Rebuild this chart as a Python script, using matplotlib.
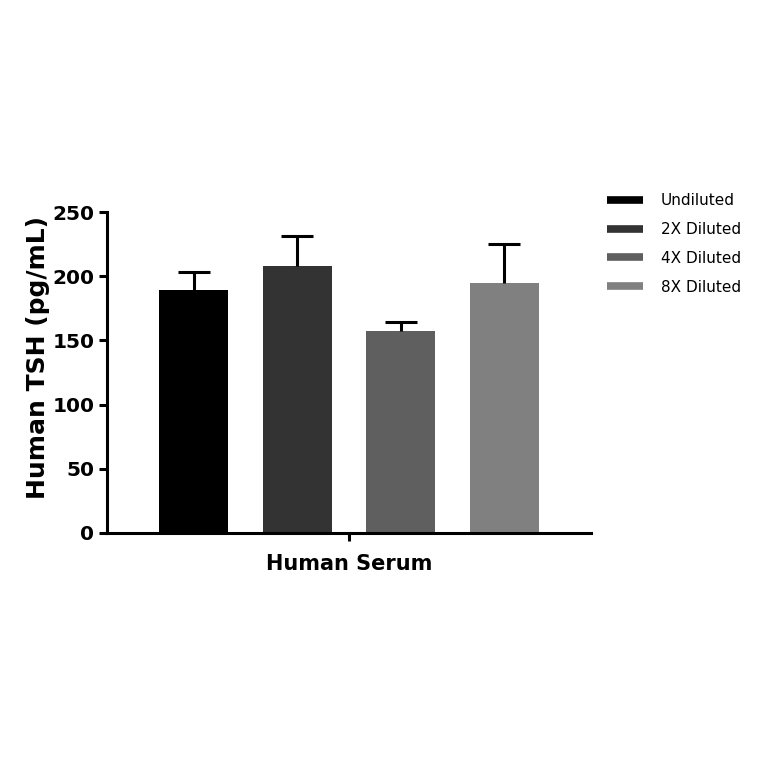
import matplotlib
matplotlib.use("Agg")
import matplotlib.pyplot as plt
import numpy as np
from matplotlib.lines import Line2D

categories = ["Undiluted", "2X Diluted", "4X Diluted", "8X Diluted"]
values = [189, 208, 157, 195]
errors = [14, 23, 7, 30]
colors = ["#000000", "#333333", "#5f5f5f", "#808080"]
group_label = "Human Serum"
yticks = [0, 50, 100, 150, 200, 250]

plt.rcParams['font.family'] = ['DejaVu Sans']
fig = plt.figure(figsize=(7.64, 7.64), dpi=100)
ax = fig.add_axes([0.140, 0.3024, 0.6336, 0.4201])

pos = np.array([-1.5, -0.5, 0.5, 1.5])
for p, v, e, c, lab in zip(pos, values, errors, colors, categories):
    ax.bar(p, v, width=0.667, color=c, label=lab, zorder=2)
    _, caps, _ = ax.errorbar(p, v, yerr=[[0], [e]], fmt='none', ecolor='black',
                             elinewidth=2.2, capsize=11.5, capthick=2.2, zorder=3)
    caps[0].set_visible(False)

ax.set_xlim(-2.338, 2.338)
ax.set_ylim(0, 250)
ax.set_yticks(yticks)
ax.set_yticklabels([str(t) for t in yticks], fontsize=14.5, fontweight='bold')
ax.set_xticks([0])
ax.set_xticklabels([""])
ax.set_xlabel(group_label, fontsize=15, fontweight='bold', labelpad=6)
ax.set_ylabel("Human TSH (pg/mL)", fontsize=18, fontweight='bold')
ax.yaxis.set_label_coords(-0.118, 0.548)

for s in ['top', 'right']:
    ax.spines[s].set_visible(False)
for s in ['left', 'bottom']:
    ax.spines[s].set_linewidth(2.2)
ax.tick_params(axis='both', width=2.2, length=6, direction='out', pad=3)

handles = [Line2D([0], [0], color=c, lw=5.5, solid_capstyle='butt') for c in colors]
leg = fig.legend(handles, categories, loc='upper left', bbox_to_anchor=(0.777, 0.765),
                 frameon=False, fontsize=11, handlelength=2.3, handletextpad=1.2,
                 labelspacing=0.9)

fig.savefig("out.png", dpi=100)
